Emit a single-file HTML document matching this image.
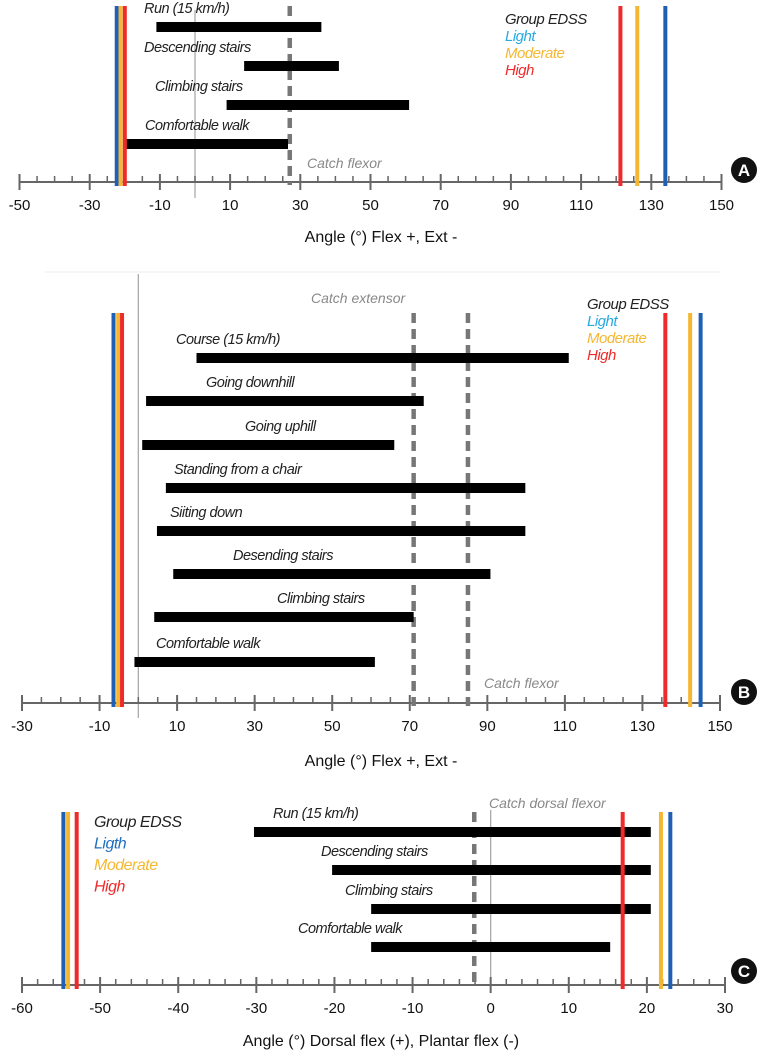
<!DOCTYPE html>
<html><head><meta charset="utf-8">
<style>
html,body{margin:0;padding:0;background:#fff;}
svg{display:block;}
text{font-family:"Liberation Sans Narrow","Liberation Sans",sans-serif;}
.lab{font-style:italic;font-size:14.5px;fill:#222;letter-spacing:-0.5px;}
.tick{font-size:15px;fill:#111;}
.title{font-size:16px;fill:#111;}
.catch{font-style:italic;font-size:14px;fill:#888;}
</style></head>
<body>
<svg id="chart" width="762" height="1056" viewBox="0 0 762 1056">
<line x1="45" y1="272" x2="720" y2="272" stroke="#eee" stroke-width="1"/>
</svg>
<script>
// Panel A
const aCategories = ["Run  (15 km/h)","Descending stairs","Climbing stairs","Comfortable walk"];
const aStart = [-11, 14, 9, -19.5];
const aEnd = [36, 41, 61, 26.5];
const aGroupLeft = [-22.3, -21.2, -20.0];   // light, moderate, high
const aGroupRight = [134, 126, 121.2];       // light, moderate, high
const aCatch = [27];
const aTicks = [-50,-30,-10,10,30,50,70,90,110,130,150];

// Panel B
const bCategories = ["Course  (15 km/h)","Going downhill","Going uphill","Standing from a chair","Siiting down","Desending stairs","Climbing stairs","Comfortable walk"];
const bStart = [15, 2, 1, 7.1, 4.8, 9, 4.1, -1];
const bEnd = [111, 73.6, 66, 99.8, 99.8, 90.8, 71, 61];
const bGroupLeft = [-6.4, -5.2, -4.2];
const bGroupRight = [145, 142.3, 135.9];
const bCatch = [71, 85];
const bTicks = [-30,-10,10,30,50,70,90,110,130,150];

// Panel C
const cCategories = ["Run  (15 km/h)","Descending stairs","Climbing stairs","Comfortable walk"];
const cStart = [-30.3, -20.3, -15.3, -15.3];
const cEnd = [20.5, 20.5, 20.5, 15.3];
const cGroupLeft = [-54.7, -54.1, -53];
const cGroupRight = [23, 21.8, 16.9];
const cCatch = [-2.1];
const cTicks = [-60,-50,-40,-30,-20,-10,0,10,20,30];

const svg = document.getElementById('chart');
const NS = 'http://www.w3.org/2000/svg';
function mk(tag, attrs, parent){
  const e = document.createElementNS(NS, tag);
  for (const k in attrs) e.setAttribute(k, attrs[k]);
  (parent||svg).appendChild(e);
  return e;
}
const groupColors = ['#1f5fb4','#f5b731','#ee2a2a'];

function panel(cfg, cats, starts, ends, gl, gr, catches, ticks){
  const g = mk('g', {});
  
  
  const x = v => cfg.x0 + (v - cfg.min) * (cfg.x1 - cfg.x0) / (cfg.max - cfg.min);
  const z = mk('line', {x1:x(0), x2:x(0), y1:cfg.zeroTop, y2:cfg.zeroBot, stroke:'#aaa', 'stroke-width':1.3}, g);
  
  
  const ax = mk('line', {x1:cfg.x0, x2:cfg.x1, y1:cfg.axisY, y2:cfg.axisY, stroke:'#666', 'stroke-width':2}, g);
  
  
  for (let v = cfg.min; v <= cfg.max + 0.001; v += cfg.minor){
    const major = ticks.some(t => Math.abs(t - v) < 0.001);
    const tk = mk('line', {x1:x(v), x2:x(v), y1:cfg.axisY - (major?8:6), y2:cfg.axisY + (major?8:0), stroke:'#666', 'stroke-width':major?2:1.5}, g);
    
    
  }
  ticks.forEach(t => {
    const tl = mk('text', {x:x(t), y:cfg.axisY + 28, 'text-anchor':'middle', class:'tick'}, g);
    tl.textContent = String(t);
    
    
  });
  const tt = mk('text', {x:381, y:cfg.titleY, 'text-anchor':'middle', class:'title'}, g);
  tt.textContent = cfg.title;
  
  
  catches.forEach(c => {
    const cl = mk('line', {x1:x(c), x2:x(c), y1:cfg.lineTop, y2:cfg.axisY + 3, stroke:'#777', 'stroke-width':4.5, 'stroke-dasharray':'10 6'}, g);
    
    
  });
  cats.forEach((c, i) => {
    const y = cfg.barY[i];
    const b = mk('rect', {x:x(starts[i]), y:y - 5, width:x(ends[i]) - x(starts[i]), height:10, fill:'#000'}, g);
    
    
    const l = mk('text', {x:cfg.labX[i], y:y - 14, class:'lab'}, g);
    l.textContent = c;
    
    
  });
  [gl, gr].forEach(arr => arr.forEach((v, i) => {
    const gline = mk('line', {x1:x(v), x2:x(v), y1:cfg.lineTop, y2:cfg.axisY + 4, stroke:groupColors[i], 'stroke-width':4}, g);
    
    
  }));
  const legTexts = ['Group EDSS', cfg.lightName, 'Moderate', 'High'];
  const legColors = ['#222', cfg.lightColor, '#f5b731', '#ee2a2a'];
  legTexts.forEach((t, i) => {
    const lt = mk('text', {x:cfg.legX, y:cfg.legY + i * cfg.legStep, class:'lab', style:'fill:'+legColors[i]+';font-size:'+cfg.legFs+'px'}, g);
    lt.textContent = t;
    
    
  });
  cfg.catchLabels.forEach(cl => {
    const ct = mk('text', {x:cl[0], y:cl[1], class:'catch'}, g);
    ct.textContent = cl[2];
    
    
  });
  const bc = mk('circle', {cx:744, cy:cfg.badgeY, r:13, fill:'#111'}, g);
  
  
  const bt = mk('text', {x:744, y:cfg.badgeY + 6, 'text-anchor':'middle', style:'fill:#fff;font-weight:bold;font-size:17px;font-family:Liberation Sans,sans-serif'}, g);
  bt.textContent = cfg.badge;
  
  
}

panel({name:'panel-a', x0:19.5, x1:721.5, min:-50, max:150, minor:5, axisY:182, titleY:242,
  zeroTop:10, zeroBot:198, lineTop:6, barY:[27,66,105,144], labX:[144,144,155,145],
  legX:505, legY:24, legStep:17, legFs:15, lightName:'Light', lightColor:'#27a9e1',
  catchLabels:[[307,168,'Catch flexor']], badge:'A', badgeY:170, title:'Angle (°) Flex +, Ext -'},
  aCategories, aStart, aEnd, aGroupLeft, aGroupRight, aCatch, aTicks);

panel({name:'panel-b', x0:22, x1:720, min:-30, max:150, minor:5, axisY:703, titleY:766,
  zeroTop:274, zeroBot:718, lineTop:313, barY:[358,401,445,488,531,574,617,662], labX:[176,206,245,174,170,233,277,156],
  legX:587, legY:309, legStep:17, legFs:15, lightName:'Light', lightColor:'#27a9e1',
  catchLabels:[[311,303,'Catch extensor'],[484,688,'Catch flexor']], badge:'B', badgeY:692, title:'Angle (°) Flex +, Ext -'},
  bCategories, bStart, bEnd, bGroupLeft, bGroupRight, bCatch, bTicks);

panel({name:'panel-c', x0:22, x1:725, min:-60, max:30, minor:2, axisY:985, titleY:1046,
  zeroTop:810, zeroBot:988, lineTop:812, barY:[832,870,909,947], labX:[273,321,345,298],
  legX:94, legY:827, legStep:21.5, legFs:16, lightName:'Ligth', lightColor:'#1f6fc0',
  catchLabels:[[489,808,'Catch dorsal flexor']], badge:'C', badgeY:971, title:'Angle (°) Dorsal flex (+), Plantar flex (-)'},
  cCategories, cStart, cEnd, cGroupLeft, cGroupRight, cCatch, cTicks);
</script>
</body></html>
